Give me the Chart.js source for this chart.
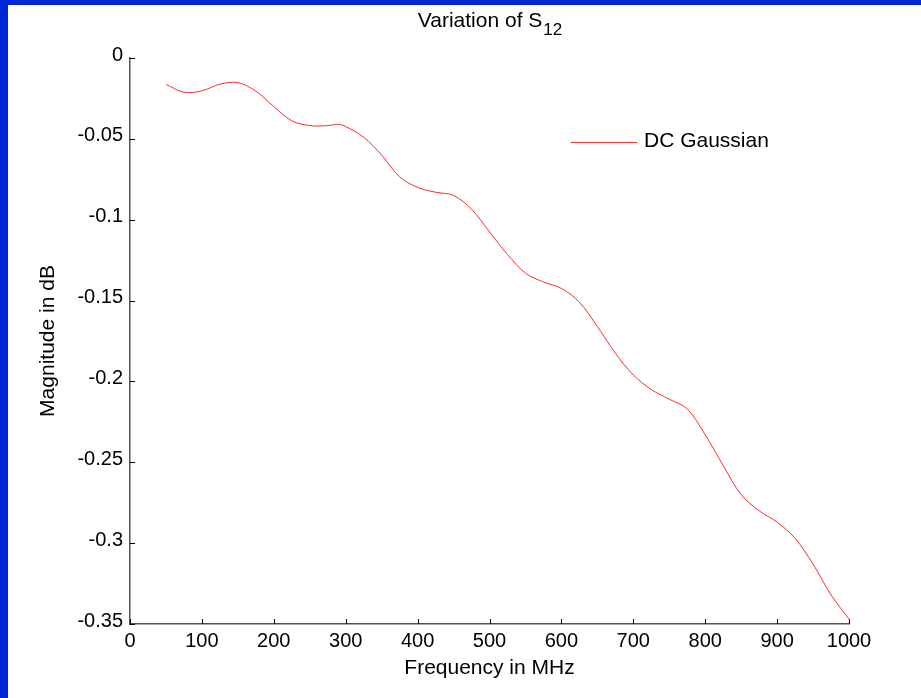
<!DOCTYPE html>
<html>
<head>
<meta charset="utf-8">
<script src="https://cdn.jsdelivr.net/npm/chart.js@4.4.1/dist/chart.umd.min.js"></script>
<style>
  html, body { margin: 0; padding: 0; background: #0028d8; width: 921px; height: 698px; overflow: hidden; }
  #wrap { position: absolute; left: 8px; top: 5px; width: 913px; height: 693px; background: #fff; }
</style>
</head>
<body>
<div id="wrap"><canvas id="s12Chart" width="913" height="693"></canvas></div>
<script>
// frequency in MHz and S12 magnitude in dB
const frequency = [50, 75, 100, 125, 150, 175, 200, 225, 250, 275, 290, 300, 325, 350, 375, 400,
  425, 450, 475, 500, 525, 550, 575, 600, 625, 650, 675, 700, 725, 750, 775, 800, 825, 850,
  875, 900, 925, 950, 975, 1000];
const magnitude = [-0.0163, -0.0212, -0.0203, -0.0162, -0.0152, -0.0205, -0.030, -0.0388, -0.0418,
  -0.0418, -0.041, -0.0424, -0.049, -0.060, -0.0735, -0.080, -0.083, -0.085, -0.0935, -0.1075,
  -0.1215, -0.133, -0.1385, -0.1425, -0.151, -0.166, -0.1825, -0.196, -0.205, -0.211, -0.217,
  -0.233, -0.252, -0.270, -0.280, -0.287, -0.297, -0.313, -0.332, -0.347];

const xTicks = [0, 100, 200, 300, 400, 500, 600, 700, 800, 900, 1000];
const yTicks = [0, -0.05, -0.1, -0.15, -0.2, -0.25, -0.3, -0.35];
const yTickLabels = ["0", "-0.05", "-0.1", "-0.15", "-0.2", "-0.25", "-0.3", "-0.35"];

const FONT = "'Liberation Sans', Arial, Helvetica, sans-serif";

// inward tick marks, titles and legend (MATLAB style)
const decorations = {
  id: "decorations",
  afterDraw(chart) {
    const { ctx, chartArea, scales } = chart;
    const x = scales.x, y = scales.y;
    ctx.save();
    ctx.strokeStyle = "#000";
    ctx.lineWidth = 1;
    ctx.beginPath();
    xTicks.forEach((v) => {
      const px = Math.round(x.getPixelForValue(v)) + 0.5;
      ctx.moveTo(px, chartArea.bottom);
      ctx.lineTo(px, chartArea.bottom - 5);
    });
    yTicks.forEach((v) => {
      const py = Math.round(y.getPixelForValue(v)) + 0.5;
      ctx.moveTo(chartArea.left, py);
      ctx.lineTo(chartArea.left + 5, py);
    });
    ctx.stroke();

    const cx = (chartArea.left + chartArea.right) / 2;
    ctx.fillStyle = "#000";
    ctx.textBaseline = "alphabetic";

    // title with subscript
    ctx.font = "21px " + FONT;
    const main = "Variation of S";
    const wMain = ctx.measureText(main).width;
    ctx.font = "17px " + FONT;
    const wSub = ctx.measureText("12").width;
    const start = cx - (wMain + wSub) / 2;
    ctx.font = "21px " + FONT;
    ctx.textAlign = "left";
    ctx.fillText(main, start, 22);
    ctx.font = "17px " + FONT;
    ctx.fillText("12", start + wMain + 1, 30);

    // axis titles
    ctx.font = "21px " + FONT;
    ctx.textAlign = "center";
    ctx.fillText("Frequency in MHz", cx, 669);
    ctx.save();
    ctx.translate(46, (chartArea.top + chartArea.bottom) / 2);
    ctx.rotate(-Math.PI / 2);
    ctx.fillText("Magnitude in dB", 0, 0);
    ctx.restore();

    // legend
    const ds = chart.data.datasets[0];
    ctx.strokeStyle = ds.borderColor;
    ctx.lineWidth = 1;
    ctx.beginPath();
    ctx.moveTo(563, 137.5);
    ctx.lineTo(629, 137.5);
    ctx.stroke();
    ctx.textAlign = "left";
    ctx.textBaseline = "middle";
    ctx.fillText(ds.label, 636, 136);
    ctx.restore();
  },
};

new Chart(document.getElementById("s12Chart"), {
  type: "line",
  data: {
    datasets: [
      {
        label: "DC Gaussian",
        data: frequency.map((f, i) => ({ x: f, y: magnitude[i] })),
        borderColor: "#ff2a2a",
        borderWidth: 1,
        pointRadius: 0,
        tension: 0.35,
        fill: false,
      },
    ],
  },
  options: {
    responsive: false,
    animation: false,
    devicePixelRatio: 1,
    layout: { padding: { left: 0, top: 53, right: 72, bottom: 0 } },
    plugins: {
      legend: { display: false },
      title: { display: false },
      tooltip: { enabled: false },
    },
    scales: {
      x: {
        type: "linear",
        min: 0,
        max: 1000,
        afterFit: (scale) => { scale.height = 74; },
        afterBuildTicks: (scale) => { scale.ticks = xTicks.map((v) => ({ value: v })); },
        grid: { display: true, drawOnChartArea: false, drawTicks: false },
        border: { color: "#555", width: 1.5 },
        ticks: {
          padding: 5,
          maxRotation: 0,
          color: "#000",
          font: { family: FONT, size: 20 },
          callback: (v) => String(v),
        },
      },
      y: {
        type: "linear",
        min: -0.35,
        max: 0,
        afterFit: (scale) => { scale.width = 122; },
        afterBuildTicks: (scale) => { scale.ticks = yTicks.map((v) => ({ value: v })); },
        grid: { display: true, drawOnChartArea: false, drawTicks: false },
        border: { color: "#555", width: 1.5 },
        ticks: {
          padding: 7,
          labelOffset: -3,
          color: "#000",
          font: { family: FONT, size: 20 },
          callback: (v, i) => yTickLabels[i],
        },
      },
    },
  },
  plugins: [decorations],
});
</script>
</body>
</html>
